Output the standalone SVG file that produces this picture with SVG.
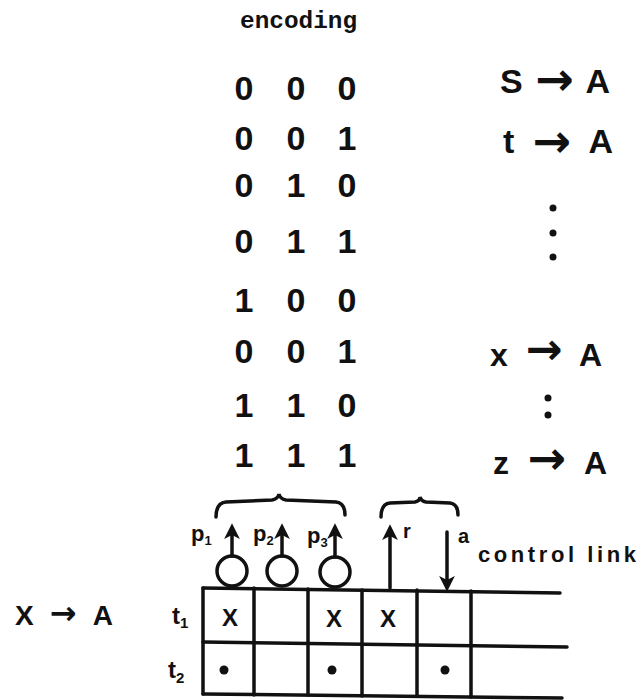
<svg xmlns="http://www.w3.org/2000/svg" width="641" height="700" viewBox="0 0 641 700">
<defs>
<style>
.hw{font-family:"Liberation Sans","DejaVu Sans",sans-serif;font-weight:bold;fill:#111}
.ar{font-family:"DejaVu Sans",sans-serif;font-weight:bold}
.dg{font-family:"Liberation Sans","DejaVu Sans",sans-serif;font-weight:bold;font-size:34px;fill:#111;text-anchor:middle}
.ln{stroke:#111;stroke-width:3.5;fill:none;stroke-linecap:round}
.cx{font-family:"Liberation Sans","DejaVu Sans",sans-serif;font-weight:bold;font-size:24px;fill:#111;text-anchor:middle}
</style>
<marker id="ah" viewBox="0 0 10 10" refX="7" refY="5" markerWidth="4.5" markerHeight="4.5" orient="auto" markerUnits="strokeWidth">
<path d="M0,0 L10,5 L0,10 L2.5,5 Z" fill="#111"/>
</marker>
</defs>
<rect width="641" height="700" fill="#fff"/>
<text id="title" x="240" y="28" font-family="Liberation Mono, monospace" font-weight="bold" font-size="24" textLength="117" lengthAdjust="spacingAndGlyphs" fill="#111">encoding</text>
<g id="codes">
<text class="dg" x="244" y="100">0</text><text class="dg" x="296" y="100">0</text><text class="dg" x="347" y="100">0</text>
<text class="dg" x="244" y="150">0</text><text class="dg" x="296" y="150">0</text><text class="dg" x="347" y="150">1</text>
<text class="dg" x="244" y="197">0</text><text class="dg" x="296" y="197">1</text><text class="dg" x="347" y="197">0</text>
<text class="dg" x="244" y="253">0</text><text class="dg" x="296" y="253">1</text><text class="dg" x="347" y="253">1</text>
<text class="dg" x="244" y="312">1</text><text class="dg" x="296" y="312">0</text><text class="dg" x="347" y="312">0</text>
<text class="dg" x="244" y="363">0</text><text class="dg" x="296" y="363">0</text><text class="dg" x="347" y="363">1</text>
<text class="dg" x="244" y="417">1</text><text class="dg" x="296" y="417">1</text><text class="dg" x="347" y="417">0</text>
<text class="dg" x="244" y="467">1</text><text class="dg" x="296" y="467">1</text><text class="dg" x="347" y="467">1</text>
</g>
<g id="rules">
<text class="hw" x="500" y="93" font-size="34" textLength="110">S <tspan class="ar" font-size="46" dy="2">→</tspan> <tspan dy="-2">A</tspan></text>
<text class="hw" x="503" y="153" font-size="34" textLength="110">t <tspan class="ar" font-size="46" dy="4">→</tspan> <tspan dy="-4">A</tspan></text>
<circle cx="553" cy="208" r="3.5" fill="#111"/><circle cx="553" cy="233" r="3.5" fill="#111"/><circle cx="553" cy="257" r="3.5" fill="#111"/>
<text class="hw" x="490" y="366" font-size="32" textLength="112">x <tspan class="ar" font-size="44" dy="-2">→</tspan> <tspan dy="2">A</tspan></text>
<circle cx="548" cy="398" r="3.5" fill="#111"/><circle cx="548" cy="415" r="3.5" fill="#111"/>
<text class="hw" x="493" y="474" font-size="32" textLength="114">z <tspan class="ar" font-size="46" dy="0">→</tspan> <tspan dy="0">A</tspan></text>
</g>
<g id="production">
<text class="hw" x="15" y="625" font-size="28" textLength="98">X<tspan class="ar" font-size="32" dy="-1">→</tspan><tspan dy="1">A</tspan></text>
</g>
<g id="grid">
<path class="ln" d="M203,588 L560,593 M203,642 L567,647 M203,694 L562,698"/>
<path class="ln" d="M203,588 V694 M254,588 V695 M308,589 V695 M362,590 V696 M417,590 V696 M471,591 V697"/>
<text class="hw" x="172" y="624" font-size="24">t<tspan font-size="15" dy="4">1</tspan></text>
<text class="hw" x="168" y="678" font-size="24">t<tspan font-size="15" dy="5">2</tspan></text>
<text class="cx" x="230" y="626">X</text>
<text class="cx" x="334" y="627">X</text>
<text class="cx" x="388" y="627">X</text>
<circle cx="224" cy="670" r="4.5" fill="#111"/>
<circle cx="332" cy="670" r="4.5" fill="#111"/>
<circle cx="445" cy="670" r="4.5" fill="#111"/>
</g>
<g id="inputs">
<circle class="ln" cx="232" cy="571" r="15"/>
<circle class="ln" cx="282" cy="571" r="15"/>
<circle class="ln" cx="335" cy="572" r="15"/>
<text class="hw" x="191" y="541" font-size="22">p<tspan font-size="13" dy="4">1</tspan></text>
<text class="hw" x="253" y="541" font-size="22">p<tspan font-size="13" dy="4">2</tspan></text>
<text class="hw" x="307" y="543" font-size="22">p<tspan font-size="13" dy="4">3</tspan></text>
<text class="hw" x="403" y="538" font-size="20">r</text>
<text class="hw" x="458" y="543" font-size="20">a</text>
<text class="hw" x="478" y="562" font-size="22" textLength="158">control link</text>
</g>
<g id="connectors">
<path class="ln" d="M232,556 V528" marker-end="url(#ah)"/>
<path class="ln" d="M282,556 V528" marker-end="url(#ah)"/>
<path class="ln" d="M335,557 V528" marker-end="url(#ah)"/>
<path class="ln" d="M390,588 V529" marker-end="url(#ah)"/>
<path class="ln" d="M447,532 V587" marker-end="url(#ah)"/>
<path class="ln" stroke-width="3" d="M216,517 Q216,503 226,502 L272,500 Q278,499 279,494 Q280,499 286,500 L336,502 Q345,503 345,515"/>
<path class="ln" stroke-width="3" d="M381,517 Q381,504 390,503 L415,502 Q420,501 420,497 Q421,501 426,502 L450,503 Q458,504 458,515"/>
</g>
</svg>
